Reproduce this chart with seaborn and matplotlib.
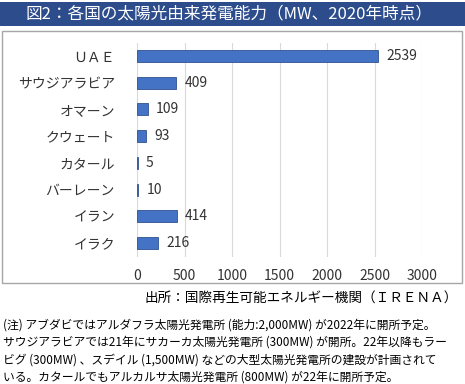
import matplotlib
matplotlib.use("Agg")
import matplotlib.pyplot as plt
import matplotlib.patches as mpatches
import seaborn as sns
import pandas as pd

# data
countries = ["ＵＡＥ", "サウジアラビア", "オマーン", "クウェート", "カタール", "バーレーン", "イラン", "イラク"]
capacity_mw = [2539, 409, 109, 93, 5, 10, 414, 216]
xticks = [0, 500, 1000, 1500, 2000, 2500, 3000]

title = "図2：各国の太陽光由来発電能力（MW、2020年時点）"
source = "出所：国際再生可能エネルギー機関（ＩＲＥＮＡ）"
notes = [
    "(注) アブダビではアルダフラ太陽光発電所 (能力:2,000MW) が2022年に開所予定。",
    "サウジアラビアでは21年にサカーカ太陽光発電所 (300MW) が開所。22年以降もラー",
    "ビグ (300MW) 、スデイル (1,500MW) などの大型太陽光発電所の建設が計画されて",
    "いる。カタールでもアルカルサ太陽光発電所 (800MW) が22年に開所予定。",
]

df = pd.DataFrame({"country": countries, "mw": capacity_mw})

sns.set_theme(style="white")
plt.rcParams["font.family"] = ["Noto Sans CJK JP", "DejaVu Sans"]

fig = plt.figure(figsize=(4.65, 3.84), dpi=100)
ax = fig.add_axes([0.295, 0.332, 0.613, 0.557])

# title banner
fig.patches.append(mpatches.Rectangle((0, 1 - 26 / 384), 1, 24 / 384, transform=fig.transFigure,
                                      facecolor="#2C4C8C", edgecolor="none", zorder=0))
fig.text(25 / 465, 1 - 14 / 384, title, color="white", fontsize=12, va="center", ha="left")

# chart frame
fig.patches.append(mpatches.Rectangle((2 / 465, 1 - 283 / 384), 460 / 465, 252 / 384,
                                      transform=fig.transFigure, facecolor="none",
                                      edgecolor="#A6A6A6", linewidth=1, zorder=0))

sns.barplot(data=df, x="mw", y="country", ax=ax, color="#4472C4", width=0.45,
            edgecolor="#2F528F", linewidth=0.6, saturation=1)

for c in ax.containers:
    ax.bar_label(c, fmt="%d", padding=6, fontsize=10, color="#333333")

ax.set_xlim(0, 3000)
ax.set_xticks(xticks)
ax.set_xlabel("")
ax.set_ylabel("")
ax.grid(axis="x", color="#D9D9D9", linewidth=0.8)
ax.set_axisbelow(True)
for s in ax.spines.values():
    s.set_visible(False)
ax.tick_params(axis="x", length=0, pad=9, labelsize=10, labelcolor="#333333")
ax.tick_params(axis="y", length=0, pad=16, labelsize=10, labelcolor="#333333")

fig.text(458 / 465, 1 - 298 / 384, source, fontsize=9.8, ha="right", va="center", color="black")

for i, line in enumerate(notes):
    fig.text(3 / 465, 1 - (325 + i * 17.5) / 384, line, fontsize=8.5, ha="left", va="center", color="black")

fig.savefig("out.png", dpi=100)
